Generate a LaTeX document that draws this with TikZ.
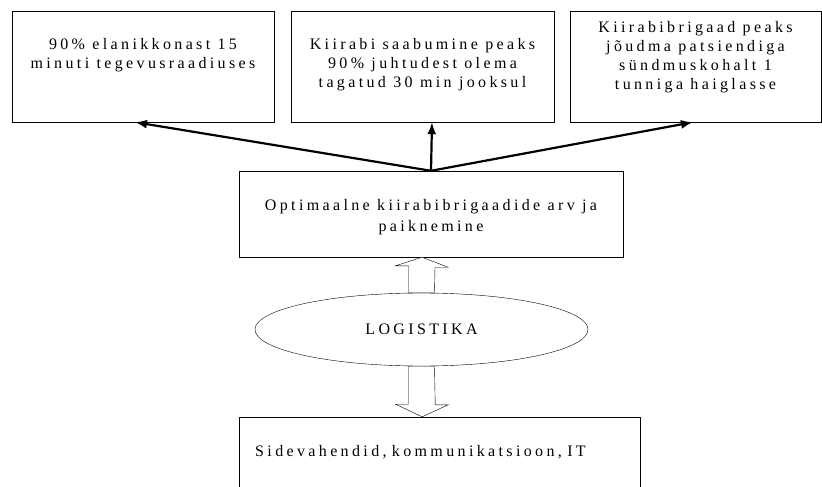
\documentclass[tikz,border=0pt]{standalone}
\usepackage{fontspec}
\setmainfont[LetterSpace=21]{Liberation Serif}
\usetikzlibrary{arrows.meta, positioning, shapes.geometric}

\begin{document}
\begin{tikzpicture}[x=1pt, y=-1pt, every node/.style={font=\fontsize{16}{19}\selectfont},
      box/.style={draw, thin, inner sep=0pt, align=center, anchor=base},
      goalarrow/.style={-{Latex[length=12pt, width=9pt]}, line width=2.2pt},
      blockarrow/.style={draw, thin, fill=white, line join=miter}]
    \useasboundingbox (0,0) rectangle (822,487);
    \clip (0,0) rectangle (822,487);
    % goals
    \node[box, minimum width=262pt, text height=58pt, text depth=53pt] (goal1) at (143,69) {90\% elanikkonast 15\\minuti tegevusraadiuses};
    \node[box, minimum width=263pt, text height=77pt, text depth=34pt] (goal2) at (422.5,88) {Kiirabi saabumine peaks\\90\% juhtudest olema\\tagatud 30 min jooksul};
    \node[box, minimum width=251pt, text height=78pt, text depth=33pt] (goal3) at (695.5,89) {Kiirabibrigaad peaks\\jõudma patsiendiga\\sündmuskohalt 1\\tunniga haiglasse};
    % optimum
    \node[box, minimum width=384pt, text height=60pt, text depth=26pt, font=\fontsize{16}{21}\selectfont] (opt) at (431,231) {Optimaalne kiirabibrigaadide arv ja\\paiknemine};
    \node[draw, thin, ellipse, inner sep=0pt, minimum width=333pt, minimum height=73pt] (log) at (421.5,329.5) {LOGISTIKA};
    \node[box, anchor=base west, inner xsep=16pt, text width=369pt, align=left, text height=39pt, text depth=80pt] (it) at (239,456) {Sidevahendid, kommunikatsioon, IT};
    % arrows to goals
    \draw[goalarrow] (opt.north) -- ([xshift=-8pt]goal1.south);
    \draw[goalarrow] (opt.north) -- ([xshift=9.5pt]goal2.south);
    \draw[goalarrow] (opt.north) -- ([xshift=-2.5pt]goal3.south);
    % block arrows
    \draw[blockarrow] ([xshift=-9pt]opt.south) -- ++(26,10) -- ++(-13,0) -- ([xshift=13pt]log.north)
      -- ([xshift=-13pt]log.north) -- ++(0,-27) -- ++(-13,0) -- cycle;
    \draw[blockarrow] ([xshift=-17.5pt]it.north) -- ++(26,-12) -- ++(-13,0) -- ([xshift=13pt]log.south)
      -- ([xshift=-13pt]log.south) -- ++(0,38) -- ++(-13,0) -- cycle;
  \end{tikzpicture}
\end{document}
